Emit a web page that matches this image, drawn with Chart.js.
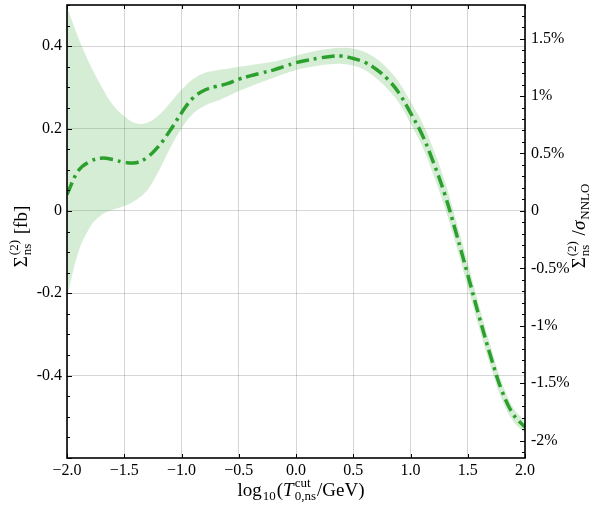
<!DOCTYPE html>
<html>
<head>
<meta charset="utf-8">
<script src="https://cdn.jsdelivr.net/npm/chart.js@4.4.1/dist/chart.umd.min.js"></script>
<style>
html, body { margin: 0; padding: 0; background: #fff; }
#wrap { width: 594px; height: 505px; }
</style>
</head>
<body>
<div id="wrap"><canvas id="sigmaChart" width="594" height="505"></canvas></div>
<script>
// log10(T cut / GeV)
var xValues = [-2.0, -1.9, -1.8, -1.7, -1.6, -1.5, -1.4, -1.3, -1.2, -1.1,
               -1.0, -0.9, -0.8, -0.7, -0.6, -0.5, -0.4, -0.3, -0.2, -0.1,
                0.0,  0.1,  0.2,  0.3,  0.4,  0.5,  0.6,  0.7,  0.8,  0.9,
                1.0,  1.1,  1.2,  1.3,  1.4,  1.5,  1.6,  1.7,  1.8,  1.9, 2.0];
// central value [fb]
var centerValues = [0.040, 0.098, 0.120, 0.128, 0.125, 0.118, 0.117, 0.130, 0.157, 0.195,
                    0.238, 0.274, 0.293, 0.302, 0.309, 0.320, 0.328, 0.335, 0.342, 0.351,
                    0.360, 0.366, 0.371, 0.375, 0.376, 0.370, 0.361, 0.344, 0.320, 0.286,
                    0.238, 0.186, 0.118, 0.040, -0.055, -0.155, -0.257, -0.353, -0.438, -0.495, -0.525];
// uncertainty band, upper and lower edge [fb]
var upperValues = [0.495, 0.420, 0.356, 0.303, 0.258, 0.230, 0.213, 0.214, 0.232, 0.262,
                   0.294, 0.320, 0.335, 0.341, 0.345, 0.350, 0.354, 0.358, 0.362, 0.369,
                   0.377, 0.384, 0.390, 0.394, 0.396, 0.394, 0.386, 0.370, 0.345, 0.312,
                   0.265, 0.216, 0.150, 0.072, -0.025, -0.125, -0.230, -0.328, -0.418, -0.479, -0.510];
var lowerValues = [-0.210, -0.100, -0.040, -0.010, 0.003, 0.012, 0.026, 0.050, 0.096, 0.152,
                   0.200, 0.236, 0.255, 0.266, 0.278, 0.291, 0.302, 0.313, 0.323, 0.333,
                   0.342, 0.348, 0.353, 0.356, 0.357, 0.353, 0.342, 0.322, 0.296, 0.262,
                   0.212, 0.158, 0.088, 0.008, -0.085, -0.185, -0.285, -0.378, -0.460, -0.512, -0.540];

var xTicks = [-2.0, -1.5, -1.0, -0.5, 0.0, 0.5, 1.0, 1.5, 2.0];
var yTicks = [-0.4, -0.2, 0, 0.2, 0.4];
var pctTicks = [-2, -1.5, -1, -0.5, 0, 0.5, 1, 1.5];
var sigmaNNLO = 27.9; // fb, sets the right-hand % axis
var yMin = -0.6, yMax = 0.5;

var SERIF = '"Liberation Serif", "DejaVu Serif", serif';

function pts(ys) {
  return xValues.map(function (x, i) { return { x: x, y: ys[i] }; });
}

function setTicks(list) {
  return function (scale) {
    scale.ticks = list.map(function (v) { return { value: v }; });
  };
}

// text with stacked super/subscripts
function drawRich(ctx, parts, cx, cy, angle) {
  var big = '19px ' + SERIF, small = '13px ' + SERIF;
  var widths = [], total = 0;
  parts.forEach(function (p) {
    var w;
    if (p.sup !== undefined || p.sub !== undefined) {
      ctx.font = small;
      w = Math.max(ctx.measureText(p.sup || '').width, ctx.measureText(p.sub || '').width) + 2;
    } else {
      ctx.font = (p.it ? 'italic ' : '') + big;
      w = ctx.measureText(p.t).width;
    }
    widths.push(w);
    total += w;
  });
  ctx.save();
  ctx.translate(cx, cy);
  ctx.rotate(angle);
  ctx.fillStyle = '#000';
  ctx.textBaseline = 'alphabetic';
  ctx.textAlign = 'left';
  var x = -total / 2, base = 6;
  parts.forEach(function (p, i) {
    if (p.sup !== undefined || p.sub !== undefined) {
      ctx.font = small;
      if (p.sup) ctx.fillText(p.sup, x + 1, base - 9);
      if (p.sub) ctx.fillText(p.sub, x + 1, base + 4);
    } else {
      ctx.font = (p.it ? 'italic ' : '') + big;
      ctx.fillText(p.t, x, base);
    }
    x += widths[i];
  });
  ctx.restore();
}

var framePlugin = {
  id: 'frame',
  afterDraw: function (chart) {
    var ctx = chart.ctx, a = chart.chartArea;
    var sx = chart.scales.x, sy = chart.scales.y, sr = chart.scales.y2;
    var v, p;
    ctx.save();
    ctx.strokeStyle = '#000';
    ctx.lineWidth = 1;
    ctx.beginPath();
    xTicks.forEach(function (t) {
      p = Math.round(sx.getPixelForValue(t)) + 0.5;
      ctx.moveTo(p, a.bottom); ctx.lineTo(p, a.bottom - 4);
      ctx.moveTo(p, a.top); ctx.lineTo(p, a.top + 4);
    });
    for (v = -0.6; v <= 0.501; v += 0.05) {
      p = Math.round(sy.getPixelForValue(v)) + 0.5;
      var major = Math.abs(v * 5 - Math.round(v * 5)) < 1e-6;
      ctx.moveTo(a.left, p); ctx.lineTo(a.left + (major ? 5 : 3), p);
    }
    for (v = -2.1; v <= 1.75; v += 0.1) {
      p = Math.round(sr.getPixelForValue(v)) + 0.5;
      var maj = Math.abs(v * 2 - Math.round(v * 2)) < 1e-6;
      ctx.moveTo(a.right, p); ctx.lineTo(a.right - (maj ? 5 : 3), p);
    }
    ctx.stroke();
    ctx.lineWidth = 1.6;
    ctx.strokeRect(a.left, a.top, a.right - a.left, a.bottom - a.top);
    ctx.restore();

    var midY = (a.top + a.bottom) / 2;
    drawRich(ctx, [{ t: '\u03A3' }, { sup: '(2)', sub: 'ns' }, { t: ' [fb]' }], 21, midY + 5, -Math.PI / 2);
    drawRich(ctx, [{ t: '\u03A3' }, { sup: '(2)', sub: 'ns' }, { t: ' /' }, { t: '\u03C3', it: true }, { sub: 'NNLO' }],
      579, midY - 6, -Math.PI / 2);
    drawRich(ctx, [{ t: 'log' }, { sub: '10' }, { t: '(' }, { t: 'T', it: true }, { sup: 'cut', sub: '0,ns' }, { t: '/GeV)' }],
      (a.left + a.right) / 2 + 5, 490, 0);
  }
};

var tickFont = { family: SERIF, size: 16 };

new Chart(document.getElementById('sigmaChart'), {
  type: 'line',
  data: {
    datasets: [{
        data: pts(centerValues),
        borderColor: '#2ca02c',
        borderWidth: 3.5,
        borderDash: [13, 5, 3, 5],
        pointRadius: 0,
        tension: 0.4,
        fill: false
      }, {
        data: pts(upperValues),
        borderColor: 'transparent',
        borderWidth: 0,
        backgroundColor: 'rgba(44, 160, 44, 0.2)',
        pointRadius: 0,
        tension: 0.4,
        fill: '+1'
      }, {
        data: pts(lowerValues),
        borderColor: 'transparent',
        borderWidth: 0,
        pointRadius: 0,
        tension: 0.4,
        fill: false
      }
    ]
  },
  options: {
    responsive: false,
    animation: false,
    devicePixelRatio: 1,
    layout: { padding: { top: 5, left: 0, right: 0, bottom: 0 } },
    plugins: {
      legend: { display: false },
      tooltip: { enabled: false }
    },
    scales: {
      x: {
        type: 'linear',
        position: 'bottom',
        min: -2, max: 2,
        afterBuildTicks: setTicks(xTicks),
        afterFit: function (s) { s.height = 47; s.paddingLeft = 0; s.paddingRight = 0; },
        ticks: {
          color: '#000', font: tickFont, padding: 3, maxRotation: 0,
          callback: function (v) { return v < 0 ? '\u2212' + Math.abs(v).toFixed(1) : Math.abs(v).toFixed(1); }
        },
        grid: { color: 'rgba(0,0,0,0.16)', lineWidth: 1, drawTicks: false },
        border: { display: false }
      },
      y: {
        type: 'linear',
        position: 'left',
        min: yMin, max: yMax,
        afterBuildTicks: setTicks(yTicks),
        afterFit: function (s) { s.width = 67; s.paddingTop = 0; s.paddingBottom = 0; },
        ticks: {
          color: '#000', font: tickFont, padding: 5,
          callback: function (v) { return v === 0 ? '0' : String(Math.round(v * 10) / 10); }
        },
        grid: { color: 'rgba(0,0,0,0.16)', lineWidth: 1, drawTicks: false },
        border: { display: false }
      },
      y2: {
        type: 'linear',
        position: 'right',
        min: yMin / sigmaNNLO * 100, max: yMax / sigmaNNLO * 100,
        afterBuildTicks: setTicks(pctTicks),
        afterFit: function (s) { s.width = 69; s.paddingTop = 0; s.paddingBottom = 0; },
        ticks: {
          color: '#000', font: tickFont, padding: 6,
          callback: function (v) { return v === 0 ? '0' : v + '%'; }
        },
        grid: { drawOnChartArea: false, drawTicks: false },
        border: { display: false }
      }
    }
  },
  plugins: [framePlugin]
});
</script>
</body>
</html>
